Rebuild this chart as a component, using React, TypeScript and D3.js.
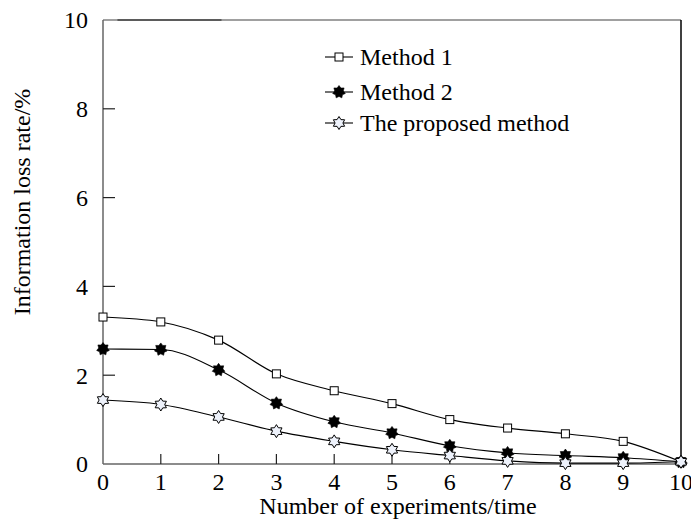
import React, { useEffect, useRef } from "react";
import * as d3 from "d3";

const experiments = [0, 1, 2, 3, 4, 5, 6, 7, 8, 9, 10];
const method1 = [3.31, 3.2, 2.79, 2.03, 1.65, 1.36, 1.0, 0.81, 0.68, 0.51, 0.05];
const method2 = [2.59, 2.58, 2.12, 1.37, 0.95, 0.7, 0.41, 0.25, 0.19, 0.14, 0.05];
const proposed = [1.44, 1.34, 1.06, 0.74, 0.51, 0.32, 0.19, 0.07, 0.02, 0.02, 0.05];
const seriesNames = ["Method 1", "Method 2", "The proposed method"];
const xTicks = [0, 1, 2, 3, 4, 5, 6, 7, 8, 9, 10];
const yTicks = [0, 2, 4, 6, 8, 10];
const xLabel = "Number of experiments/time";
const yLabel = "Information loss rate/%";

const W = 691;
const H = 523;
const FONT = "Liberation Serif, Tinos, Times New Roman, DejaVu Serif, serif";

function starPath(cx: number, cy: number, n: number, ro: number, ri: number) {
  const pts: [number, number][] = [];
  for (let i = 0; i < n * 2; i++) {
    const r = i % 2 === 0 ? ro : ri;
    const a = -Math.PI / 2 + (i * Math.PI) / n;
    pts.push([cx + r * Math.cos(a), cy + r * Math.sin(a)]);
  }
  return "M" + pts.map((p) => p[0].toFixed(2) + "," + p[1].toFixed(2)).join("L") + "Z";
}

export default function App() {
  const ref = useRef<SVGSVGElement>(null);
  useEffect(() => {
    document.body.style.margin = "0";
    const svg = d3.select(ref.current);
    svg.selectAll("*").remove();
    const x = d3.scaleLinear().domain([0, 10]).range([103, 681]);
    const y = d3.scaleLinear().domain([0, 10]).range([464, 20]);

    // frame
    svg.append("line").attr("x1", x(0)).attr("x2", x(10)).attr("y1", y(10)).attr("y2", y(10))
      .attr("stroke", "#808080").attr("stroke-width", 1.5);
    svg.append("line").attr("x1", x(0.25)).attr("x2", x(2.05)).attr("y1", y(10)).attr("y2", y(10))
      .attr("stroke", "#444").attr("stroke-width", 1.5);
    svg.append("line").attr("x1", x(10)).attr("x2", x(10)).attr("y1", y(10)).attr("y2", y(0))
      .attr("stroke", "#000").attr("stroke-width", 1.5);
    svg.append("line").attr("x1", x(0)).attr("x2", x(0)).attr("y1", y(10)).attr("y2", y(0))
      .attr("stroke", "#666").attr("stroke-width", 1.5);
    svg.append("line").attr("x1", x(0)).attr("x2", x(10)).attr("y1", y(0)).attr("y2", y(0))
      .attr("stroke", "#666").attr("stroke-width", 1.5);

    // ticks
    yTicks.filter((t) => t > 0 && t < 10).forEach((t) => {
      svg.append("line").attr("x1", x(0)).attr("x2", x(0) + 12).attr("y1", y(t)).attr("y2", y(t))
        .attr("stroke", "#222").attr("stroke-width", 1.2);
    });
    xTicks.filter((t) => t > 0 && t < 10).forEach((t) => {
      svg.append("line").attr("x1", x(t)).attr("x2", x(t)).attr("y1", y(0)).attr("y2", y(0) - 10)
        .attr("stroke", "#222").attr("stroke-width", 1.2);
    });
    const txt = (sel: any, size: number) => sel.style("font-family", FONT).style("font-size", size + "px");
    yTicks.forEach((t) => {
      txt(svg.append("text").attr("x", 88).attr("y", y(t)).attr("dy", "0.35em")
        .attr("text-anchor", "end"), 24).text(String(t));
    });
    xTicks.forEach((t) => {
      txt(svg.append("text").attr("x", x(t)).attr("y", 482).attr("dy", "0.35em")
        .attr("text-anchor", "middle"), 24).text(String(t));
    });
    txt(svg.append("text").attr("x", 398).attr("y", 514).attr("text-anchor", "middle"), 24).text(xLabel);
    txt(svg.append("text").attr("transform", "translate(30,202) rotate(-90)").attr("text-anchor", "middle"), 24).text(yLabel);

    const all = [method1, method2, proposed];
    const line = d3.line<number>().x((_, i) => x(experiments[i])).y((d) => y(d)).curve(d3.curveMonotoneX);
    all.forEach((s) => {
      svg.append("path").attr("d", line(s) as string).attr("fill", "none").attr("stroke", "#000").attr("stroke-width", 1.1);
    });

    const drawMarker = (k: number, cx: number, cy: number) => {
      if (k === 0) {
        svg.append("rect").attr("x", cx - 4).attr("y", cy - 4).attr("width", 8).attr("height", 8)
          .attr("fill", "#fff").attr("stroke", "#000").attr("stroke-width", 1);
      } else if (k === 1) {
        svg.append("path").attr("d", starPath(cx, cy, 7, 6.5, 4.4)).attr("fill", "#000").attr("stroke", "#000").attr("stroke-width", 0.6);
      } else {
        svg.append("path").attr("d", starPath(cx, cy, 6, 6.5, 3.9)).attr("fill", "#eef2fb").attr("stroke", "#000").attr("stroke-width", 1);
      }
    };
    all.forEach((s, k) => s.forEach((v, i) => drawMarker(k, x(experiments[i]), y(v))));

    // legend
    const ly = [57, 92, 123];
    seriesNames.forEach((name, k) => {
      svg.append("line").attr("x1", 325).attr("x2", 353).attr("y1", ly[k]).attr("y2", ly[k])
        .attr("stroke", "#000").attr("stroke-width", 1.1);
      drawMarker(k, 339, ly[k]);
      txt(svg.append("text").attr("x", 360).attr("y", ly[k]).attr("dy", "0.35em"), 24).text(name);
    });
  }, []);
  return <svg ref={ref} width={W} height={H} style={{ display: "block", background: "#fff" }} />;
}
